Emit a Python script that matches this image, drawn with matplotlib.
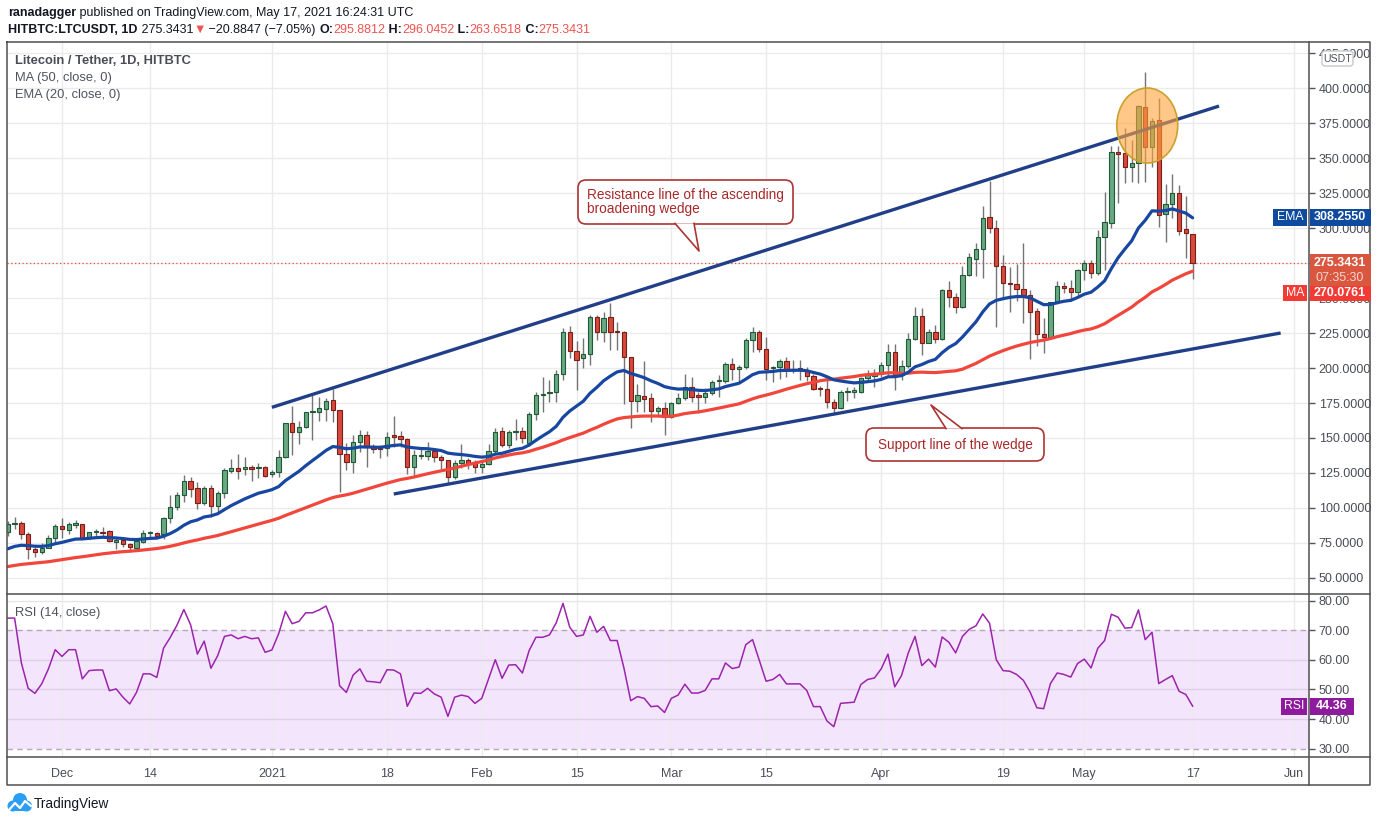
import numpy as np
import pandas as pd
import matplotlib
matplotlib.use("Agg")
import matplotlib.pyplot as plt
from matplotlib.patches import Rectangle, Ellipse, FancyBboxPatch, Polygon, Circle
from matplotlib.lines import Line2D
from matplotlib.transforms import Affine2D
from matplotlib.ticker import FormatStrFormatter, FuncFormatter

FAM = ['Liberation Sans', 'DejaVu Sans']
plt.rcParams['font.family'] = FAM

# ---------------- data (daily candles, 23 Nov 2020 .. 17 May 2021) ----------------
open_ = [82.6, 88.3, 89.0, 81.2, 70.5, 68.8, 71.7, 78.3, 86.9, 84.3,
         88.2, 88.3, 78.8, 82.6, 82.6, 83.3, 76.0, 77.1, 74.3, 71.7,
         76.0, 81.9, 81.9, 81.2, 92.6, 100.5, 109.0, 119.0, 114.0, 103.8,
         114.0, 101.7, 111.0, 126.7, 128.8, 127.6, 129.0, 128.3, 129.0, 124.3,
         125.5, 136.2, 160.5, 154.5, 157.6, 168.3, 168.8, 171.0, 176.9, 169.8,
         138.3, 132.6, 146.9, 151.9, 143.3, 142.9, 142.6, 151.9, 151.2, 149.0,
         129.0, 137.1, 137.4, 140.7, 136.2, 134.0, 121.9, 132.4, 134.1, 132.9,
         129.0, 131.4, 140.9, 155.2, 145.0, 154.0, 155.0, 146.2, 166.9, 180.5,
         181.9, 183.1, 195.7, 225.5, 212.4, 207.4, 209.8, 236.7, 226.0, 236.2,
         226.4, 226.0, 207.6, 176.7, 179.8, 178.3, 169.5, 171.2, 164.8, 175.2,
         178.3, 186.7, 179.8, 179.5, 181.9, 190.5, 191.0, 202.6, 199.3, 200.5,
         220.0, 225.5, 213.3, 200.0, 200.5, 205.2, 198.6, 199.2, 198.6, 194.5,
         185.5, 184.8, 175.5, 171.2, 182.6, 183.1, 183.1, 192.6, 194.3, 196.2,
         202.1, 211.2, 195.0, 201.4, 220.5, 237.1, 218.1, 225.5, 220.5, 255.7,
         251.0, 243.3, 266.4, 277.6, 284.8, 307.6, 299.8, 272.9, 261.0, 260.0,
         256.2, 252.1, 241.0, 224.3, 222.4, 246.9, 258.8, 257.1, 254.0, 270.0,
         275.2, 267.6, 293.3, 303.8, 354.5, 353.3, 343.8, 346.2, 386.2, 358.1,
         377.1, 310.0, 316.9, 324.8, 299.0, 295.8812]
high = [90.7, 93.3, 90.7, 82.9, 72.4, 74.8, 80.7, 88.6, 92.9, 90.0,
        91.4, 88.6, 83.1, 85.0, 86.2, 84.3, 79.0, 77.6, 75.2, 77.6,
        84.3, 83.8, 82.6, 93.8, 109.3, 111.6, 123.6, 122.4, 118.8, 115.5,
        116.4, 112.1, 128.3, 135.0, 138.6, 136.6, 130.7, 131.9, 130.0, 127.1,
        141.4, 161.0, 172.9, 162.4, 168.8, 181.9, 179.5, 178.3, 184.8, 169.8,
        146.2, 152.1, 155.7, 155.2, 145.5, 145.0, 154.0, 165.7, 155.2, 149.8,
        141.4, 143.1, 147.1, 141.4, 137.9, 134.0, 134.5, 145.5, 135.5, 134.3,
        134.3, 145.7, 157.4, 158.1, 155.7, 163.3, 158.1, 168.8, 183.1, 193.8,
        191.4, 198.6, 228.8, 230.0, 219.5, 221.2, 237.9, 237.9, 240.2, 246.2,
        232.6, 226.4, 207.6, 188.3, 205.0, 181.9, 172.9, 175.9, 175.9, 181.9,
        195.5, 193.8, 183.1, 185.5, 191.4, 195.0, 204.5, 206.9, 202.1, 221.2,
        229.0, 227.1, 222.4, 201.4, 206.2, 208.1, 205.7, 205.7, 200.5, 195.5,
        187.1, 191.9, 177.6, 184.3, 186.7, 186.2, 193.8, 198.6, 199.0, 204.5,
        217.1, 217.1, 205.7, 224.8, 243.8, 242.6, 227.6, 230.7, 256.4, 262.4,
        253.3, 272.9, 281.9, 289.5, 315.7, 333.8, 305.7, 280.7, 272.4, 274.3,
        289.0, 255.7, 242.6, 235.5, 247.4, 262.4, 261.7, 262.9, 271.0, 277.1,
        277.1, 298.6, 326.0, 358.6, 358.6, 371.2, 362.9, 387.9, 411.7, 378.3,
        392.6, 331.2, 338.6, 330.5, 322.9, 296.0452]
low = [80.2, 85.2, 77.6, 63.8, 64.8, 67.1, 71.2, 76.0, 78.8, 81.4,
       85.4, 77.6, 77.6, 80.0, 80.0, 75.5, 71.0, 72.4, 68.8, 71.2,
       74.8, 79.5, 79.5, 77.6, 89.0, 98.6, 104.5, 108.1, 99.0, 102.0,
       93.8, 97.4, 107.4, 124.8, 120.7, 123.6, 119.3, 121.2, 121.9, 122.4,
       122.4, 135.5, 137.9, 145.7, 156.9, 148.6, 162.4, 162.4, 161.7, 111.7,
       127.1, 124.8, 140.2, 129.5, 139.0, 135.5, 137.1, 143.8, 143.8, 124.3,
       122.4, 135.0, 134.3, 133.1, 127.6, 117.6, 120.5, 128.3, 127.6, 124.8,
       125.2, 130.5, 139.5, 143.8, 142.6, 148.6, 146.2, 144.3, 162.9, 168.8,
       176.0, 175.9, 191.4, 206.9, 184.3, 199.8, 202.1, 220.0, 218.8, 212.9,
       212.9, 174.3, 156.9, 168.8, 168.8, 161.7, 166.4, 152.1, 164.0, 174.3,
       177.1, 176.0, 167.6, 174.8, 180.7, 179.1, 189.0, 191.4, 190.2, 199.0,
       211.7, 211.7, 191.4, 190.2, 191.9, 193.8, 196.2, 191.4, 191.0, 184.3,
       180.0, 171.2, 167.6, 170.5, 176.7, 178.3, 181.9, 190.2, 186.7, 193.8,
       195.0, 184.3, 191.4, 199.8, 220.0, 209.3, 217.6, 218.1, 220.0, 243.8,
       239.0, 242.6, 265.7, 265.7, 264.0, 296.2, 229.0, 249.8, 240.2, 248.1,
       231.9, 206.2, 215.7, 210.5, 221.2, 245.7, 253.3, 248.1, 251.0, 262.9,
       264.0, 266.4, 270.0, 299.8, 317.6, 332.4, 333.1, 332.4, 333.1, 343.8,
       301.0, 290.2, 306.9, 295.0, 278.3, 263.6518]
close = [88.3, 88.8, 81.2, 70.5, 68.8, 71.7, 78.3, 86.9, 84.8, 88.3,
         88.6, 78.8, 82.6, 82.9, 82.1, 76.2, 76.6, 74.0, 71.9, 76.2,
         81.9, 82.4, 80.2, 92.6, 100.5, 109.0, 119.0, 113.8, 103.8, 114.0,
         101.7, 110.5, 127.1, 128.8, 126.7, 129.5, 128.1, 129.3, 123.1, 125.7,
         136.2, 160.5, 154.5, 157.6, 168.3, 168.8, 171.2, 176.2, 169.8, 138.3,
         132.6, 146.9, 151.9, 143.3, 142.4, 141.9, 150.9, 150.5, 149.0, 129.0,
         137.6, 137.9, 140.7, 136.2, 134.3, 121.9, 132.4, 134.3, 132.4, 129.5,
         131.7, 140.9, 154.5, 145.0, 154.0, 155.0, 149.8, 166.9, 180.5, 181.4,
         182.6, 195.5, 225.5, 212.4, 205.7, 209.8, 236.2, 226.0, 235.5, 226.0,
         225.7, 207.6, 176.7, 180.5, 178.1, 169.5, 171.4, 164.8, 175.2, 178.6,
         186.7, 179.5, 179.5, 181.9, 189.8, 191.0, 202.6, 199.0, 200.5, 220.0,
         225.5, 213.3, 199.5, 200.5, 205.0, 199.0, 199.2, 198.8, 194.5, 184.8,
         184.8, 175.5, 171.2, 182.6, 183.1, 183.6, 192.6, 195.0, 196.2, 202.1,
         211.2, 195.0, 201.4, 220.5, 237.1, 218.1, 225.5, 220.5, 255.7, 251.0,
         243.3, 266.4, 279.5, 284.8, 306.9, 299.8, 272.9, 260.5, 260.0, 256.2,
         252.1, 240.2, 224.3, 222.4, 246.9, 258.8, 257.1, 254.5, 269.8, 275.2,
         267.6, 293.3, 304.0, 354.5, 352.6, 343.8, 346.2, 387.1, 358.1, 376.4,
         309.3, 316.9, 324.8, 298.1, 296.2, 275.3431]
# closes of the 49 days before the window (5 Oct .. 22 Nov 2020), only used to warm up MA/EMA
prior_close = [47.5, 45.5, 46.5, 47.5, 48.5, 50.0, 50.5, 51.0, 50.0, 49.5,
               49.0, 47.5, 47.5, 48.5, 49.0, 48.5, 52.5, 56.0, 56.5, 57.0,
               56.0, 55.5, 56.0, 54.0, 55.0, 55.0, 55.5,
               55.5, 54.0, 55.0, 57.0, 61.5, 61.0, 58.0, 60.0, 59.0, 59.5,
               60.0, 60.5, 61.0, 60.0, 63.0, 67.0, 72.0, 78.0, 79.0, 82.0, 87.0, 84.0]
rsi = [74.2, 74.2, 59.0, 50.4, 48.7, 51.9, 57.0, 63.5, 61.2, 63.5,
       63.5, 53.6, 56.4, 56.6, 56.6, 49.6, 50.2, 47.4, 45.1, 49.0,
       55.3, 55.3, 54.1, 64.0, 67.7, 71.9, 77.1, 71.9, 62.0, 66.4,
       57.2, 61.5, 68.0, 68.5, 67.2, 68.0, 67.2, 67.5, 62.6, 63.4,
       68.9, 76.5, 72.3, 73.1, 76.0, 76.0, 77.0, 78.3, 72.3, 51.3,
       49.0, 54.9, 57.0, 52.8, 52.6, 52.3, 56.7, 56.6, 55.3, 44.3,
       48.8, 48.7, 50.4, 48.5, 47.4, 40.9, 47.4, 48.1, 47.6, 45.3,
       47.0, 53.6, 60.1, 53.8, 58.3, 58.4, 55.6, 63.2, 67.7, 67.7,
       68.5, 72.6, 79.2, 71.1, 68.0, 68.5, 74.8, 69.4, 71.4, 66.6,
       66.6, 57.3, 46.2, 47.6, 47.0, 44.2, 44.4, 42.2, 47.0, 48.1,
       51.8, 48.8, 48.8, 49.7, 53.6, 53.6, 59.0, 57.1, 57.6, 65.2,
       66.9, 59.9, 52.8, 53.4, 55.1, 51.9, 51.9, 51.9, 49.7, 44.2,
       44.2, 39.3, 37.4, 45.3, 45.5, 45.7, 51.7, 53.4, 53.9, 57.0,
       62.0, 50.9, 54.7, 62.4, 68.0, 58.1, 60.3, 57.6, 67.8, 66.0,
       62.4, 68.0, 70.4, 71.6, 75.6, 72.5, 60.1, 56.4, 56.2, 55.1,
       53.1, 49.1, 43.8, 43.5, 52.0, 55.6, 55.1, 54.2, 58.8, 60.3,
       57.3, 64.0, 66.6, 75.5, 74.5, 70.8, 71.0, 77.0, 66.9, 69.4,
       52.0, 53.4, 54.7, 49.4, 48.3, 44.36]

date_tick_pos = [8, 21, 39, 56, 70, 84, 98, 112, 129, 147, 159, 175, 190]
date_tick_lab = ['Dec', '14', '2021', '18', 'Feb', '15', 'Mar', '15', 'Apr', '19', 'May', '17', 'Jun']
price_ticks = list(range(50, 426, 25))
price_hidden = [275]          # label fully covered by the last-price tag
rsi_ticks = [30, 40, 50, 60, 70, 80]

# drawn trend lines (day index, price)
resistance = ([39.0, 178.9], [171.9, 387.1])
support = ([57.0, 188.0], [110.0, 225.0])
highlight = (168.3, 373.2, 9.0, 53.6)   # centre x, centre y, width, height

last_price = 275.3431
ema_label = 308.2550
ma_label = 270.0761
rsi_label = 44.36

# ---------------- indicators ----------------
full = pd.Series(prior_close + close)
ema20 = full.ewm(span=20, adjust=False).mean().values[len(prior_close):]
ma50 = full.rolling(50).mean().values[len(prior_close):]

# ---------------- figure ----------------
W, H = 1376, 823
fig = plt.figure(figsize=(W / 100, H / 100), dpi=100)
fig.patch.set_facecolor('white')
PIX = Affine2D().scale(1.0 / W, -1.0 / H).translate(0, 1) + fig.transFigure


def px_rect(l, t, r, b):
    return [l / W, 1 - b / H, (r - l) / W, (b - t) / H]


ax = fig.add_axes(px_rect(7, 42, 1309, 594))
rax = fig.add_axes(px_rect(7, 594, 1309, 757), sharex=ax)

XMIN, XMAX = -0.124, 192.19
ax.set_xlim(XMIN, XMAX)
ax.set_ylim(38.57, 432.86)
rax.set_ylim(27.12, 82.37)

TXT = '#4a4d57'
GRID = '#ebebeb'
for a in (ax, rax):
    for s in a.spines.values():
        s.set_visible(False)
    a.set_facecolor('none')

# grid
for xp in date_tick_pos:
    ax.axvline(xp, color=GRID, lw=1, zorder=0)
for yp in price_ticks:
    ax.axhline(yp, color=GRID, lw=1, zorder=0)

# candles
n = len(close)
idx = np.arange(n)
o = np.array(open_); c = np.array(close); h = np.array(high); l = np.array(low)
up = c >= o
ax.vlines(idx, l, h, color='#747474', lw=1.0, zorder=2)
body_bot = np.minimum(o, c)
body_h = np.maximum(np.abs(c - o), 0.9)
face = np.where(up, '#6aa882', '#d8493b')
edge = np.where(up, '#1f5a36', '#7a1f17')
ax.bar(idx, body_h, bottom=body_bot, width=0.64, color=face, edgecolor=edge,
       linewidth=0.8, zorder=3)

# moving averages
ax.plot(idx, ma50, color='#f0463b', lw=2.3, zorder=4, solid_capstyle='round')
ax.plot(idx, ema20, color='#1747a0', lw=2.3, zorder=4, solid_capstyle='round')

# trend lines
ax.plot(*resistance, color='#213f88', lw=2.4, zorder=5, solid_capstyle='butt')
ax.plot(*support, color='#213f88', lw=2.4, zorder=5, solid_capstyle='butt')

# last price dotted line
ax.axhline(last_price, color='#e0533f', lw=0.9, ls=(0, (1, 2)), zorder=1)

# highlight ellipse
ax.add_patch(Ellipse((highlight[0], highlight[1]), highlight[2], highlight[3],
                     facecolor='#ffa43a', alpha=0.6, edgecolor='none', zorder=6))
ax.add_patch(Ellipse((highlight[0], highlight[1]), highlight[2], highlight[3],
                     facecolor='none', edgecolor='#c9a12c', lw=1.2, zorder=6))

# price axis
ax.yaxis.tick_right()
ax.set_yticks(price_ticks)
ax.yaxis.set_major_formatter(FuncFormatter(
    lambda v, p: '' if int(round(v)) in price_hidden else '%.4f' % v))
ax.tick_params(axis='y', which='both', length=4, width=1, color='#555555',
               labelcolor=TXT, labelsize=9, pad=3)
ax.tick_params(axis='x', which='both', length=0, labelbottom=False)
ax.set_xticks(date_tick_pos)

# RSI pane
rax.axhspan(30, 70, color='#f3e6fc', zorder=0, lw=0)
for xp in date_tick_pos:
    rax.axvline(xp, color=GRID, lw=1, zorder=0.5)
rax.axhline(80, color='#e6e6e6', lw=1, zorder=0.6)
for yp in (40, 50, 60):
    rax.axhline(yp, color='#ddd0e6', lw=1, zorder=0.6)
for yp in (30, 70):
    rax.axhline(yp, color='#b4a6bb', lw=1, ls=(0, (4, 3)), zorder=0.7)
rax.plot(idx, rsi, color='#9c24ad', lw=1.1, zorder=3)
rax.yaxis.tick_right()
rax.set_yticks(rsi_ticks)
rax.yaxis.set_major_formatter(FormatStrFormatter('%.2f'))
rax.tick_params(axis='y', length=4, width=1, color='#555555', labelcolor=TXT,
                labelsize=9, pad=3)
rax.set_xticks(date_tick_pos)
rax.set_xticklabels(date_tick_lab)
rax.tick_params(axis='x', length=0, labelcolor=TXT, labelsize=9, pad=8)
rax.set_xlim(XMIN, XMAX)


# ---------------- frame lines ----------------
def fline(pts, color='#505050', lw=1.1, z=20, **kw):
    xs, ys = zip(*pts)
    fig.add_artist(Line2D(xs, ys, transform=PIX, color=color, lw=lw, zorder=z, **kw))


fline([(7, 42), (1370, 42), (1370, 785), (7, 785), (7, 42)])
fline([(7, 594), (1370, 594)])
fline([(7, 757), (1370, 757)])
fline([(1309, 42), (1309, 785)])


# ---------------- texts ----------------
def ftext(x, y, s, **kw):
    kw.setdefault('va', 'center')
    kw.setdefault('ha', 'left')
    return fig.text(x, y, s, transform=PIX, **kw)


renderer = fig.canvas.get_renderer()


def seq_text(x, y, parts, size):
    for s, color, weight in parts:
        t = ftext(x, y, s, color=color, fontsize=size, fontweight=weight)
        bb = t.get_window_extent(renderer=renderer)
        x += bb.width


DARK = '#131722'
RED = '#ef5350'
seq_text(8, 13, [('ranadagger', DARK, 'bold'),
                 (' published on TradingView.com, May 17, 2021 16:24:31 UTC', DARK, 'normal')], 9.0)
seq_text(8, 30, [('HITBTC:LTCUSDT, 1D', DARK, 'bold'), (' 275.3431', DARK, 'normal'),
                 ('\u25BC', RED, 'normal'), (' \u221220.8847 (\u22127.05%) ', DARK, 'normal'),
                 ('O:', DARK, 'bold'), ('295.8812', RED, 'normal'),
                 (' H:', DARK, 'bold'), ('296.0452', RED, 'normal'),
                 (' L:', DARK, 'bold'), ('263.6518', RED, 'normal'),
                 (' C:', DARK, 'bold'), ('275.3431', RED, 'normal')], 9.0)

ftext(15, 61, 'Litecoin / Tether, 1D, HITBTC', color='#4a4d57', fontsize=9.3, fontweight='bold')
ftext(15, 78, 'MA (50, close, 0)', color='#50535e', fontsize=9.3)
ftext(15, 95, 'EMA (20, close, 0)', color='#50535e', fontsize=9.3)
ftext(15, 613, 'RSI (14, close)', color='#50535e', fontsize=9.3)

# ---------------- callouts ----------------
CE = '#ab3434'
CT = '#a8282a'


def callout(x0, y0, x1, y1, tail, text, tx, ty, ha):
    fig.add_artist(FancyBboxPatch((x0, y0), x1 - x0, y1 - y0,
                                  boxstyle='round,pad=0,rounding_size=8', transform=PIX,
                                  facecolor='white', edgecolor=CE, lw=1.2, zorder=21))
    fig.add_artist(Polygon(tail, closed=True, transform=PIX, facecolor='white',
                           edgecolor='none', zorder=22))
    xs, ys = zip(*tail)
    fig.add_artist(Line2D(xs, ys, transform=PIX, color=CE, lw=1.2, zorder=23))
    ftext(tx, ty, text, color=CT, fontsize=9.8, ha=ha, linespacing=1.0, zorder=24)


callout(578, 180, 793, 224, [(675, 223.4), (699, 251), (694, 223.4)],
        'Resistance line of the ascending\nbroadening wedge', 587, 202, 'left')
callout(866, 428, 1044, 461, [(946, 428.6), (931, 405), (962, 428.6)],
        'Support line of the wedge', 955, 445, 'center')


# ---------------- axis tags ----------------
def box(x0, y0, x1, y1, color, z=25):
    fig.add_artist(Rectangle((x0, y0), x1 - x0, y1 - y0, transform=PIX, facecolor=color,
                             edgecolor='none', zorder=z))


EMA_C = '#0e4a9e'
MA_C = '#f23b35'
LP_C = '#d9563f'
RSI_C = '#8e1a9e'

box(1273, 209, 1307, 226, EMA_C)
ftext(1290, 217.5, 'EMA', color='white', fontsize=8.8, ha='center', zorder=26)
box(1310, 209, 1371, 226, EMA_C)
ftext(1340, 217.5, '%.4f' % ema_label, color='white', fontsize=9, ha='center', fontweight='bold', zorder=26)

box(1310, 254, 1371, 286, LP_C)
ftext(1340, 263, '%.4f' % last_price, color='white', fontsize=9, ha='center', fontweight='bold', zorder=26)
ftext(1340, 278, '07:35:30', color='#f6d5cf', fontsize=9, ha='center', zorder=26)

box(1283, 285, 1307, 301, MA_C)
ftext(1295, 293, 'MA', color='white', fontsize=8.8, ha='center', zorder=26)
box(1310, 286, 1371, 301, MA_C)
ftext(1340, 293.5, '%.4f' % ma_label, color='white', fontsize=9, ha='center', fontweight='bold', zorder=26)

box(1281, 698, 1307, 715, RSI_C)
ftext(1294, 706.5, 'RSI', color='white', fontsize=8.8, ha='center', zorder=26)
box(1310, 698, 1354, 715, RSI_C)
ftext(1332, 706.5, '%.2f' % rsi_label, color='white', fontsize=9, ha='center', fontweight='bold', zorder=26)

# USDT badge
fig.add_artist(FancyBboxPatch((1322, 51), 31, 15, boxstyle='round,pad=0,rounding_size=3',
                              transform=PIX, facecolor='white', edgecolor='#c9c9c9', lw=1, zorder=25))
ftext(1337.5, 58.5, 'USDT', color='#50535e', fontsize=7.6, ha='center', zorder=26)

# ---------------- TradingView logo ----------------
LOGO = '#2a9df4'
for (cx, cy, r) in [(13, 806, 5.5), (20, 800, 7), (26.5, 806, 5.5)]:
    fig.add_artist(Circle((cx, cy), r, transform=PIX, facecolor=LOGO, edgecolor='none', zorder=25))
fig.add_artist(Rectangle((13, 804), 14, 7.5, transform=PIX, facecolor=LOGO, edgecolor='none', zorder=25))
fig.add_artist(Line2D([9, 15, 20, 25, 31], [810, 803, 808, 801, 806], transform=PIX,
                      color='white', lw=1.6, zorder=26))
ftext(34, 804, 'TradingView', color='#131722', fontsize=9.8, zorder=26)

fig.savefig('out.png', dpi=100, facecolor='white')
